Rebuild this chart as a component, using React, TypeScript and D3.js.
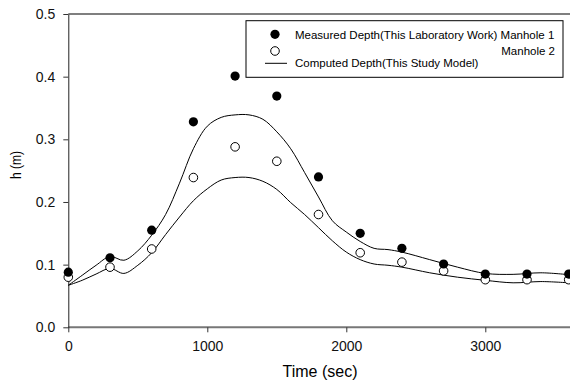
import React, { useEffect, useRef } from "react";
import * as d3 from "d3";

// measured depths every 300 s
const sampleTimes = [0, 300, 600, 900, 1200, 1500, 1800, 2100, 2400, 2700, 3000, 3300, 3600];
const manhole1 = [0.088, 0.111, 0.155, 0.328, 0.401, 0.369, 0.24, 0.15, 0.126, 0.101, 0.085, 0.085, 0.085];
const manhole2 = [0.08, 0.096, 0.125, 0.239, 0.288, 0.265, 0.18, 0.119, 0.104, 0.09, 0.076, 0.076, 0.076];

// computed depths (model)
const modelTimes = [0, 100, 200, 300, 400, 500, 600, 700, 800, 900, 1000, 1100, 1200, 1300, 1400, 1500, 1600, 1700, 1800, 1900, 2000, 2100, 2200, 2300, 2400, 2600, 2800, 3000, 3200, 3400, 3600];
const computed1 = [0.067, 0.083, 0.099, 0.113, 0.107, 0.122, 0.147, 0.18, 0.23, 0.285, 0.321, 0.335, 0.339, 0.339, 0.332, 0.312, 0.285, 0.247, 0.208, 0.17, 0.152, 0.137, 0.126, 0.124, 0.12, 0.108, 0.096, 0.086, 0.0845, 0.087, 0.084];
const computed2 = [0.067, 0.075, 0.085, 0.094, 0.086, 0.099, 0.119, 0.148, 0.176, 0.202, 0.221, 0.235, 0.239, 0.239, 0.233, 0.22, 0.199, 0.18, 0.159, 0.138, 0.12, 0.108, 0.101, 0.099, 0.096, 0.087, 0.08, 0.075, 0.071, 0.073, 0.071];

const xTicks = [0, 1000, 2000, 3000];
const yTicks = [0, 0.1, 0.2, 0.3, 0.4, 0.5];

const FONT = "'Liberation Sans', Arial, sans-serif";

const App = () => {
  const svgRef = useRef<SVGSVGElement>(null);

  useEffect(() => {
    const svg = d3.select(svgRef.current);
    svg.selectAll("*").remove();

    const x = d3.scaleLinear().domain([0, 3600]).range([68.3, 568.7]);
    const y = d3.scaleLinear().domain([0, 0.5]).range([327.3, 14]);

    // top frame line
    svg.append("line")
      .attr("x1", 68.3).attr("x2", 570)
      .attr("y1", y(0.5)).attr("y2", y(0.5))
      .attr("stroke", "#555").attr("stroke-width", 1.5);

    const xAxis = svg.append("g")
      .attr("transform", `translate(0,${y(0)})`)
      .call(d3.axisBottom(x).tickValues(xTicks).tickSize(5).tickPadding(9).tickSizeOuter(0).tickFormat(d3.format("d")));
    xAxis.select(".domain").attr("stroke", "#777").attr("stroke-width", 2).attr("d", `M${x(0)},0H570`);

    const yAxis = svg.append("g")
      .attr("transform", `translate(${x(0)},0)`)
      .call(d3.axisLeft(y).tickValues(yTicks).tickSize(5).tickPadding(8).tickSizeOuter(0).tickFormat(d3.format(".1f")));
    yAxis.select(".domain").attr("stroke", "#222");

    svg.selectAll(".tick text").attr("font-family", FONT).attr("font-size", 14).attr("fill", "#111");
    svg.selectAll(".tick line").attr("stroke", "#333");

    const line = d3.line<number>()
      .x((d, i) => x(modelTimes[i]))
      .y((d) => y(d))
      .curve(d3.curveCatmullRom.alpha(0.5));

    [computed1, computed2].forEach((s) => {
      svg.append("path").attr("d", line(s)).attr("fill", "none").attr("stroke", "#000").attr("stroke-width", 1);
    });

    svg.selectAll(".m2")
      .data(manhole2)
      .enter()
      .append("circle")
      .attr("cx", (d, i) => x(sampleTimes[i]))
      .attr("cy", (d) => y(d))
      .attr("r", 4.3)
      .attr("fill", "#fff")
      .attr("stroke", "#000");

    svg.selectAll(".m1")
      .data(manhole1)
      .enter()
      .append("circle")
      .attr("cx", (d, i) => x(sampleTimes[i]))
      .attr("cy", (d) => y(d))
      .attr("r", 4.6)
      .attr("fill", "#000");

    // axis titles
    svg.append("text")
      .attr("x", 320).attr("y", 376.5)
      .attr("text-anchor", "middle")
      .attr("font-family", FONT).attr("font-size", 16)
      .text("Time (sec)");

    svg.append("text")
      .attr("transform", "translate(21,165) rotate(-90)")
      .attr("text-anchor", "middle")
      .attr("font-family", FONT).attr("font-size", 15)
      .attr("textLength", 28).attr("lengthAdjust", "spacingAndGlyphs")
      .text("h (m)");

    // legend
    const lg = svg.append("g").attr("font-family", FONT).attr("font-size", 11.5);
    lg.append("rect")
      .attr("x", 246).attr("y", 20.7).attr("width", 317).attr("height", 56.6)
      .attr("fill", "#fff").attr("stroke", "#000");
    lg.append("circle").attr("cx", 275).attr("cy", 34.3).attr("r", 4.6).attr("fill", "#000");
    lg.append("text").attr("x", 295).attr("y", 38.5).text("Measured Depth(This Laboratory Work) Manhole 1");
    lg.append("circle").attr("cx", 275).attr("cy", 51).attr("r", 4.3).attr("fill", "#fff").attr("stroke", "#000");
    lg.append("text").attr("x", 555).attr("y", 55).attr("text-anchor", "end").text("Manhole 2");
    lg.append("line").attr("x1", 265).attr("x2", 287).attr("y1", 63.3).attr("y2", 63.3).attr("stroke", "#000");
    lg.append("text").attr("x", 295).attr("y", 67).text("Computed Depth(This Study Model)");
  }, []);

  return (
    <svg
      ref={svgRef}
      width={570}
      height={382}
      style={{ position: "absolute", left: 0, top: 0, background: "#fff" }}
    ></svg>
  );
};

export default App;
